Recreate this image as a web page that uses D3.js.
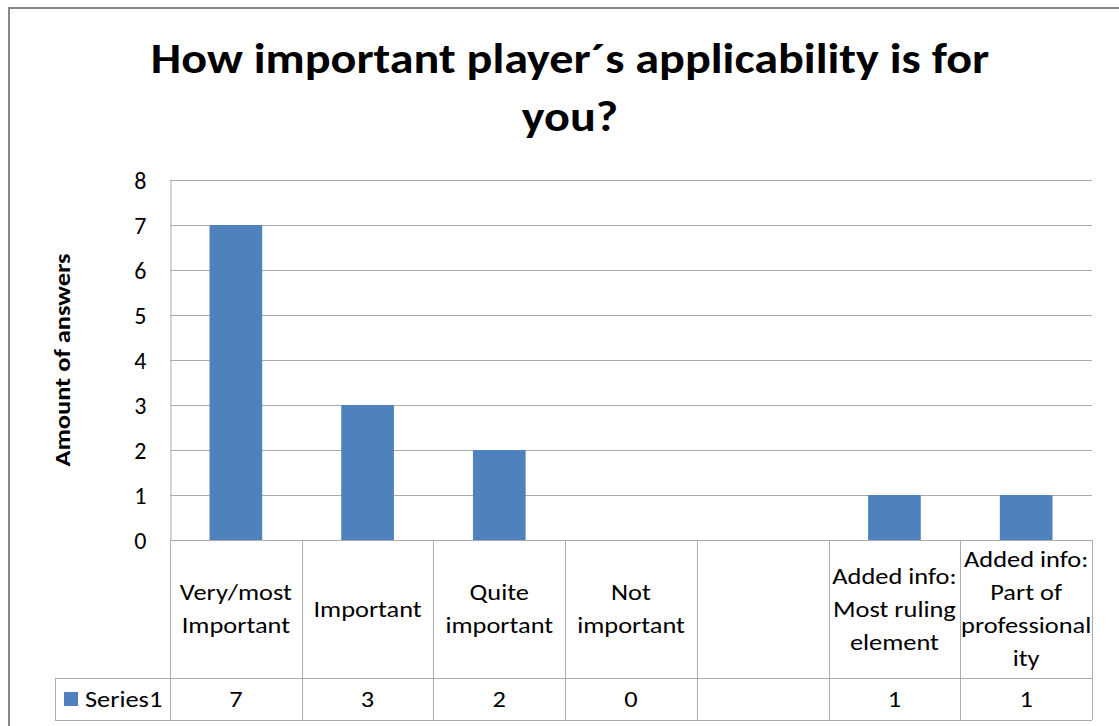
<!DOCTYPE html>
<html>
<head>
<meta charset="utf-8">
<script src="https://cdn.jsdelivr.net/npm/d3@7"></script>
<style>
  html, body { margin: 0; padding: 0; background: #fff; }
  svg { display: block; }
  text { font-family: Carlito, Lato, "Open Sans", sans-serif; fill: #000; }
</style>
</head>
<body>
<svg id="chart" width="1119" height="726"></svg>
<script>
// Survey answers, one column per category (line breaks as shown in the data table)
const categories = [
  "Very/most\nImportant",
  "Important",
  "Quite\nimportant",
  "Not\nimportant",
  "",
  "Added info:\nMost ruling\nelement",
  "Added info:\nPart of\nprofessional\nity"
];
const seriesName = "Series1";
const seriesValues = [7, 3, 2, 0, null, 1, 1];
const yTicks = [0, 1, 2, 3, 4, 5, 6, 7, 8];
const titleLines = ["How important player\u00b4s applicability is for", "you?"];
const yTitle = "Amount of answers";

const svg = d3.select("#chart");
const W = 1119, H = 726;
const barColor = "#4F81BD";
const gridColor = "#ABABAB";

// widen glyphs horizontally about a fixed x (the face is narrower than the original one)
function stretch(sel, cx, s) {
  sel.attr("transform", `translate(${cx},0) scale(${s},1) translate(${-cx},0)`);
}

// chart frame (extends past the visible window on the right and bottom)
svg.append("rect")
  .attr("x", 9).attr("y", 8)
  .attr("width", W + 20).attr("height", H + 20)
  .attr("fill", "#fff").attr("stroke", "#888").attr("stroke-width", 2);

const plot = { left: 170, right: 1092, top: 180, bottom: 540 };
const table = { headerBottom: 678, bottom: 720, legendLeft: 55 };

const x = d3.scaleBand()
  .domain(d3.range(categories.length))
  .range([plot.left, plot.right])
  .paddingInner(0).paddingOuter(0);

const y = d3.scaleLinear()
  .domain([0, d3.max(yTicks)])
  .range([plot.bottom, plot.top]);

// title
const titleX = 570;
titleLines.forEach((line, i) => {
  const t = svg.append("text")
    .attr("x", titleX).attr("y", 73 + i * 58)
    .attr("text-anchor", "middle")
    .attr("font-weight", "bold")
    .attr("font-size", 43)
    .text(line);
  stretch(t, titleX, 1.12);
});

// horizontal gridlines
svg.append("g")
  .selectAll("line")
  .data(yTicks.filter(t => t > 0))
  .join("line")
  .attr("x1", plot.left).attr("x2", plot.right)
  .attr("y1", d => y(d) + 0.5).attr("y2", d => y(d) + 0.5)
  .attr("stroke", gridColor).attr("stroke-width", 1);

// y axis
const yAxis = d3.axisLeft(y).tickValues(yTicks).tickSize(0).tickPadding(24).tickFormat(d3.format("d"));
const yg = svg.append("g").attr("transform", `translate(${plot.left + 0.5},0)`).call(yAxis);
yg.select(".domain").attr("stroke", gridColor).attr("stroke-width", 1);
yg.selectAll(".tick text")
  .attr("font-size", 24)
  .attr("font-family", "Carlito, Lato, sans-serif")
  .attr("fill", "#000")
  .attr("dy", "0.36em");

// y axis title (rotated; stretch runs along the text direction)
const yMid = (plot.top + plot.bottom) / 2;
svg.append("g")
  .attr("transform", `translate(70,${yMid}) rotate(-90) scale(1.2,1)`)
  .append("text")
  .attr("text-anchor", "middle")
  .attr("font-weight", "bold")
  .attr("font-size", 22)
  .text(yTitle);

// bars
const barW = x.bandwidth() * 0.4;
svg.append("g")
  .selectAll("rect")
  .data(seriesValues.map((v, i) => ({ v, i })).filter(d => d.v != null && d.v > 0))
  .join("rect")
  .attr("x", d => x(d.i) + (x.bandwidth() - barW) / 2)
  .attr("y", d => y(d.v))
  .attr("width", barW)
  .attr("height", d => y(0) - y(d.v))
  .attr("fill", barColor);

// data table grid
const tg = svg.append("g").attr("stroke", gridColor).attr("stroke-width", 1);
tg.append("line").attr("x1", plot.left).attr("x2", plot.right)
  .attr("y1", plot.bottom + 0.5).attr("y2", plot.bottom + 0.5);
tg.append("line").attr("x1", table.legendLeft).attr("x2", plot.right)
  .attr("y1", table.headerBottom + 0.5).attr("y2", table.headerBottom + 0.5);
tg.append("line").attr("x1", table.legendLeft).attr("x2", plot.right)
  .attr("y1", table.bottom + 0.5).attr("y2", table.bottom + 0.5);
tg.append("line").attr("x1", table.legendLeft + 0.5).attr("x2", table.legendLeft + 0.5)
  .attr("y1", table.headerBottom).attr("y2", table.bottom);
const edges = d3.range(categories.length + 1).map(i => i < categories.length ? x(i) : plot.right);
tg.selectAll("line.col")
  .data(edges)
  .join("line").attr("class", "col")
  .attr("x1", d => Math.round(d) + 0.5).attr("x2", d => Math.round(d) + 0.5)
  .attr("y1", plot.bottom).attr("y2", table.bottom);

// category labels in the table header
const cellStretch = 1.2;
const lineH = 33;
const headerMid = (plot.bottom + table.headerBottom) / 2;
categories.forEach((c, i) => {
  if (!c) return;
  const lines = c.split("\n");
  const cx = x(i) + x.bandwidth() / 2;
  const t = svg.append("text")
    .attr("text-anchor", "middle")
    .attr("font-size", 22);
  lines.forEach((ln, k) => {
    t.append("tspan")
      .attr("x", cx)
      .attr("y", headerMid + (k - (lines.length - 1) / 2) * lineH)
      .attr("dy", "0.36em")
      .text(ln);
  });
  stretch(t, cx, cellStretch);
});

// value row
const rowMid = (table.headerBottom + table.bottom) / 2;
svg.append("g")
  .selectAll("text")
  .data(seriesValues.map((v, i) => ({ v, i })).filter(d => d.v != null))
  .join("text")
  .attr("x", d => x(d.i) + x.bandwidth() / 2)
  .attr("y", rowMid)
  .attr("dy", "0.36em")
  .attr("text-anchor", "middle")
  .attr("font-size", 22)
  .text(d => d.v)
  .each(function(d) { stretch(d3.select(this), x(d.i) + x.bandwidth() / 2, cellStretch); });

// legend key for the series row
svg.append("rect")
  .attr("x", 64).attr("y", rowMid - 7)
  .attr("width", 14).attr("height", 14)
  .attr("fill", barColor);
const lg = svg.append("text")
  .attr("x", 85).attr("y", rowMid).attr("dy", "0.36em")
  .attr("font-size", 22)
  .text(seriesName);
stretch(lg, 85, cellStretch);
</script>
</body>
</html>
